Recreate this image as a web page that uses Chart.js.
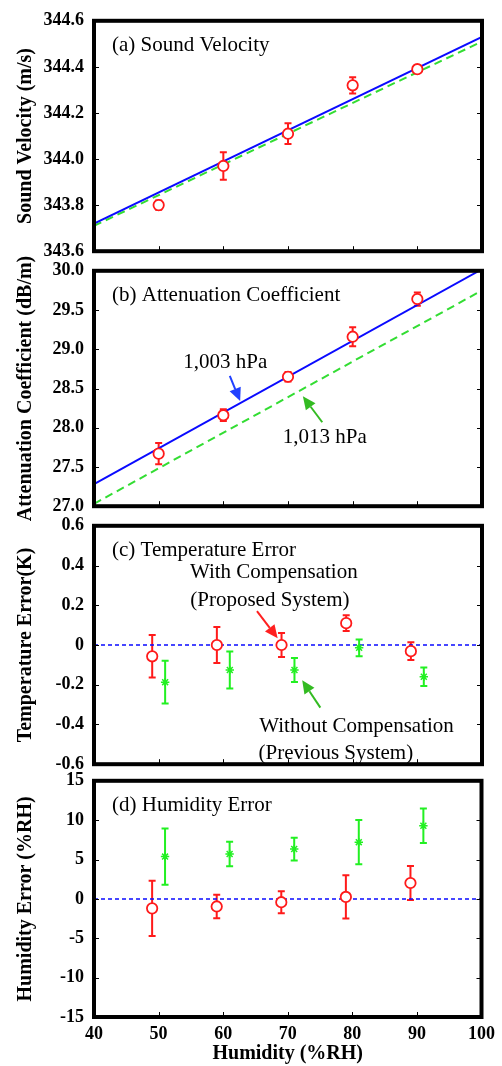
<!DOCTYPE html>
<html>
<head>
<meta charset="utf-8">
<script src="https://cdn.jsdelivr.net/npm/chart.js@4.4.1/dist/chart.umd.min.js"></script>
<style>
  html, body { margin: 0; padding: 0; background: #fff; }
  #wrap { position: relative; width: 502px; height: 1066px; overflow: hidden; }
  #wrap canvas { position: absolute; left: 0; }
</style>
</head>
<body>
<div id="wrap">
  <canvas id="chart-a" width="502" height="272" style="top:0px"></canvas>
  <canvas id="chart-b" width="502" height="277" style="top:250px"></canvas>
  <canvas id="chart-c" width="502" height="280" style="top:505px"></canvas>
  <canvas id="chart-d" width="502" height="306" style="top:760px"></canvas>
</div>
<script>
// humidity set points
const humidity = [50, 60, 70, 80, 90];
const humidityRed = [49, 59, 69, 79, 89];
const humidityGreen = [51, 61, 71, 81, 91];
const lineX = [40, 100];
const xTicks = [40, 50, 60, 70, 80, 90, 100];

// (a) sound velocity
const velocity = [343.80, 343.97, 344.11, 344.32, 344.39];
const velocityErr = [0.02, 0.06, 0.045, 0.035, 0.015];
const velocity1003 = [343.72, 344.53];
const velocity1013 = [343.71, 344.51];

// (b) attenuation coefficient
const attenuation = [27.67, 28.16, 28.65, 29.16, 29.64];
const attenuationErr = [0.135, 0.075, 0.06, 0.12, 0.085];
const atten1003 = [27.28, 30.02];
const atten1013 = [27.03, 29.75];

// (c) temperature error
const tempWith = [-0.057, 0, 0, 0.11, -0.031];
const tempWithErr = [0.107, 0.09, 0.06, 0.04, 0.045];
const tempWithout = [-0.187, -0.126, -0.126, -0.014, -0.16];
const tempWithoutErr = [0.108, 0.093, 0.06, 0.042, 0.047];

// (d) humidity error
const humWith = [-1.2, -0.96, -0.42, 0.25, 2.02];
const humWithErr = [3.5, 1.5, 1.4, 2.75, 2.15];
const humWithout = [5.37, 5.71, 6.33, 7.21, 9.29];
const humWithoutErr = [3.58, 1.55, 1.45, 2.8, 2.2];

const zeroLine = [0, 0];

const SERIF = "'Liberation Serif', 'DejaVu Serif', serif";
const RED = '#ff1a1a';
const GREEN = '#22f022';
const GREEN_LINE = '#33dd33';
const BLUE = '#0a0aff';

Chart.defaults.font.family = SERIF;
Chart.defaults.color = '#000';

const toPoints = (xs, ys) => xs.map((x, i) => ({ x: x, y: ys[i] }));

function drawArrow(ctx, x0, y0, x1, y1, color) {
    const ang = Math.atan2(y1 - y0, x1 - x0);
    const len = 13, half = 6;
    const bx = x1 - len * Math.cos(ang), by = y1 - len * Math.sin(ang);
    ctx.save();
    ctx.strokeStyle = color;
    ctx.fillStyle = color;
    ctx.lineWidth = 2;
    ctx.beginPath();
    ctx.moveTo(x0, y0);
    ctx.lineTo(bx, by);
    ctx.stroke();
    ctx.beginPath();
    ctx.moveTo(x1, y1);
    ctx.lineTo(bx + half * Math.sin(ang), by - half * Math.cos(ang));
    ctx.lineTo(bx - half * Math.sin(ang), by + half * Math.cos(ang));
    ctx.closePath();
    ctx.fill();
    ctx.restore();
}

const panelPlugin = {
    id: 'panel',
    beforeDatasetsDraw(chart) {
        const ctx = chart.ctx;
        const ys = chart.scales.y;
        chart.data.datasets.forEach((ds, i) => {
            if (!ds.errors) return;
            const meta = chart.getDatasetMeta(i);
            ctx.save();
            ctx.strokeStyle = ds.borderColor;
            ctx.lineWidth = 2;
            meta.data.forEach((pt, j) => {
                const v = ds.data[j].y, e = ds.errors[j];
                const top = ys.getPixelForValue(v + e);
                const bot = ys.getPixelForValue(v - e);
                ctx.beginPath();
                ctx.moveTo(pt.x, top);
                ctx.lineTo(pt.x, bot);
                ctx.moveTo(pt.x - 3.5, top);
                ctx.lineTo(pt.x + 3.5, top);
                ctx.moveTo(pt.x - 3.5, bot);
                ctx.lineTo(pt.x + 3.5, bot);
                ctx.stroke();
            });
            ctx.restore();
        });
    },
    afterDraw(chart, args, opts) {
        const ctx = chart.ctx;
        const a = chart.chartArea;
        const xs = chart.scales.x, ys = chart.scales.y;
        ctx.save();
        // inner ticks
        ctx.strokeStyle = '#000';
        ctx.lineWidth = 1;
        ctx.beginPath();
        ys.ticks.forEach(t => {
            const py = Math.round(ys.getPixelForValue(t.value)) + 0.5;
            ctx.moveTo(a.left, py); ctx.lineTo(a.left + 5, py);
            ctx.moveTo(a.right, py); ctx.lineTo(a.right - 5, py);
        });
        xTicks.forEach(v => {
            const px = Math.round(xs.getPixelForValue(v)) + 0.5;
            ctx.moveTo(px, a.bottom); ctx.lineTo(px, a.bottom - 5);
        });
        ctx.stroke();
        // frame
        ctx.lineWidth = 4;
        ctx.strokeRect(a.left, a.top, a.right - a.left, a.bottom - a.top);
        // panel title
        ctx.fillStyle = '#000';
        ctx.font = '21px ' + SERIF;
        ctx.textAlign = 'left';
        ctx.textBaseline = 'alphabetic';
        ctx.fillText(opts.title, a.left + 18, a.top + 30);
        // annotations
        ctx.textAlign = 'center';
        ctx.textBaseline = 'middle';
        (opts.labels || []).forEach(l => {
            ctx.fillText(l.text, xs.getPixelForValue(l.x), ys.getPixelForValue(l.y));
        });
        (opts.arrows || []).forEach(ar => {
            drawArrow(ctx,
                xs.getPixelForValue(ar.from[0]), ys.getPixelForValue(ar.from[1]),
                xs.getPixelForValue(ar.to[0]), ys.getPixelForValue(ar.to[1]),
                ar.color);
        });
        ctx.restore();
    }
};

function makePanel(id, cfg) {
    const isBottom = !!cfg.showX;
    return new Chart(document.getElementById(id), {
        type: 'scatter',
        data: { datasets: cfg.datasets },
        options: {
            responsive: false,
            animation: false,
            layout: { padding: cfg.padding },
            plugins: {
                legend: { display: false },
                tooltip: { enabled: false },
                panel: { title: cfg.title, labels: cfg.labels, arrows: cfg.arrows },
            },
            scales: {
                x: {
                    type: 'linear',
                    min: 40,
                    max: 100,
                    display: isBottom,
                    grid: { display: false, drawTicks: false },
                    border: { display: false },
                    ticks: {
                        stepSize: 10,
                        padding: 7,
                        font: { size: 18, weight: 'bold' },
                        maxRotation: 0,
                    },
                    title: {
                        display: isBottom,
                        text: 'Humidity (%RH)',
                        font: { size: 20, weight: 'bold' },
                        padding: { top: 0, bottom: 0 },
                    },
                    afterFit: s => { if (isBottom) s.height = 49; },
                },
                y: {
                    min: cfg.yMin,
                    max: cfg.yMax,
                    grid: { display: false, drawTicks: false },
                    border: { display: false },
                    ticks: {
                        stepSize: cfg.yStep,
                        padding: 10,
                        font: { size: 18, weight: 'bold' },
                        callback: cfg.yFormat,
                    },
                    title: {
                        display: true,
                        text: cfg.yTitle,
                        font: { size: 20, weight: 'bold' },
                        padding: { top: 14, bottom: 0 },
                    },
                    afterFit: s => { s.width = 94; },
                },
            },
        },
        plugins: [panelPlugin],
    });
}

const circleSet = (xs, ys, errs) => ({
    data: toPoints(xs, ys),
    errors: errs,
    borderColor: RED,
    backgroundColor: '#fff',
    pointStyle: 'circle',
    pointRadius: 5.2,
    borderWidth: 1.8,
    showLine: false,
});
const starSet = (xs, ys, errs) => ({
    data: toPoints(xs, ys),
    errors: errs,
    borderColor: GREEN,
    backgroundColor: GREEN,
    pointStyle: 'star',
    pointRadius: 4.2,
    borderWidth: 1.5,
    showLine: false,
});
const fitLine = (ys, color, dash) => ({
    data: toPoints(lineX, ys),
    borderColor: color,
    borderWidth: 2,
    borderDash: dash,
    pointRadius: 0,
    showLine: true,
    fill: false,
});
const zeroSet = () => ({
    data: toPoints(lineX, zeroLine),
    borderColor: BLUE,
    borderWidth: 1.5,
    borderDash: [4, 3],
    pointRadius: 0,
    showLine: true,
    fill: false,
});

makePanel('chart-a', {
    title: '(a) Sound Velocity',
    yTitle: 'Sound Velocity (m/s)',
    yMin: 343.6, yMax: 344.6, yStep: 0.2,
    yFormat: v => v.toFixed(1),
    padding: { top: 12, bottom: 18, left: 0, right: 20 },
    datasets: [
        circleSet(humidity, velocity, velocityErr),
        fitLine(velocity1003, BLUE, []),
        fitLine(velocity1013, GREEN_LINE, [8, 5]),
    ],
});

makePanel('chart-b', {
    title: '(b) Attenuation Coefficient',
    yTitle: 'Attenuation Coefficient (dB/m)',
    yMin: 27, yMax: 30, yStep: 0.5,
    yFormat: v => v.toFixed(1),
    padding: { top: 17, bottom: 18, left: 0, right: 20 },
    labels: [
        { text: '1,003 hPa', x: 60.3, y: 28.83 },
        { text: '1,013 hPa', x: 75.7, y: 27.88 },
    ],
    arrows: [
        { from: [61.0, 28.66], to: [62.6, 28.34], color: '#2040ff' },
        { from: [75.3, 28.07], to: [72.3, 28.40], color: '#33bb22' },
    ],
    datasets: [
        circleSet(humidity, attenuation, attenuationErr),
        fitLine(atten1003, BLUE, []),
        fitLine(atten1013, GREEN_LINE, [8, 5]),
    ],
});

makePanel('chart-c', {
    title: '(c) Temperature Error',
    yTitle: 'Temperature Error(K)',
    yMin: -0.6, yMax: 0.6, yStep: 0.2,
    yFormat: v => Math.abs(v) < 1e-9 ? '0' : v.toFixed(1),
    padding: { top: 18, bottom: 18, left: 0, right: 20 },
    labels: [
        { text: 'With Compensation', x: 67.8, y: 0.363 },
        { text: '(Proposed System)', x: 67.2, y: 0.223 },
        { text: 'Without Compensation', x: 80.6, y: -0.41 },
        { text: '(Previous System)', x: 77.4, y: -0.544 },
    ],
    arrows: [
        { from: [65.2, 0.17], to: [68.4, 0.034], color: '#ff2020' },
        { from: [75.0, -0.315], to: [72.2, -0.178], color: '#33bb22' },
    ],
    datasets: [
        circleSet(humidityRed, tempWith, tempWithErr),
        starSet(humidityGreen, tempWithout, tempWithoutErr),
        zeroSet(),
    ],
});

makePanel('chart-d', {
    title: '(d) Humidity Error',
    yTitle: 'Humidity Error (%RH)',
    yMin: -15, yMax: 15, yStep: 5,
    yFormat: v => String(v),
    showX: true,
    padding: { top: 17, bottom: 0, left: 0, right: 20 },
    datasets: [
        circleSet(humidityRed, humWith, humWithErr),
        starSet(humidityGreen, humWithout, humWithoutErr),
        zeroSet(),
    ],
});
</script>
</body>
</html>
